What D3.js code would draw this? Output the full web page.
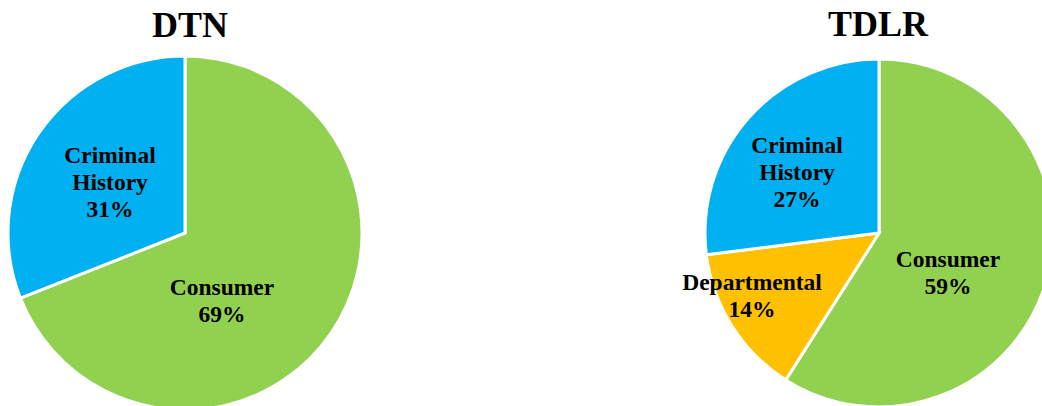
<!DOCTYPE html>
<html>
<head>
<meta charset="utf-8">
<script src="https://cdn.jsdelivr.net/npm/d3@7"></script>
<style>
  html, body { margin: 0; padding: 0; background: #fff; }
  svg { display: block; }
  text { font-family: "Liberation Serif", "Times New Roman", serif; font-weight: bold; fill: #000; }
</style>
</head>
<body>
<svg id="chart" width="1042" height="406"></svg>
<script>
// ---- Data ----
const dtnTitle = "DTN";
const dtnCategories = ["Consumer", "Criminal History"];
const dtnValues = [69, 31];

const tdlrTitle = "TDLR";
const tdlrCategories = ["Consumer", "Departmental", "Criminal History"];
const tdlrValues = [59, 14, 27];

// ---- Styles / layout ----
const colorScale = d3.scaleOrdinal()
  .domain(["Consumer", "Criminal History", "Departmental"])
  .range(["#92D050", "#00B0F0", "#FFC000"]);

const charts = [
  { title: dtnTitle, cats: dtnCategories, vals: dtnValues,
    cx: 185, cy: 233, r: 177, titleX: 190, titleY: 37,
    labelOffsets: { "Consumer": [37, 62], "Criminal History": [-75, -70] } },
  { title: tdlrTitle, cats: tdlrCategories, vals: tdlrValues,
    cx: 879, cy: 233, r: 174, titleX: 878, titleY: 36,
    labelOffsets: { "Consumer": [69, 34], "Departmental": [-127, 57], "Criminal History": [-82, -80] } }
];

const svg = d3.select("#chart");
const lineGap = 27;

charts.forEach(c => {
  const data = c.cats.map((k, i) => ({ cat: k, val: c.vals[i] }));
  const pie = d3.pie().sort(null).value(d => d.val);
  const arc = d3.arc().innerRadius(0).outerRadius(c.r);
  const g = svg.append("g").attr("transform", `translate(${c.cx},${c.cy})`);

  g.selectAll("path.slice")
    .data(pie(data))
    .join("path")
    .attr("class", "slice")
    .attr("d", arc)
    .attr("fill", d => colorScale(d.data.cat))
    .attr("stroke", "#fff")
    .attr("stroke-width", 3)
    .attr("stroke-linejoin", "miter");

  svg.append("text")
    .attr("x", c.titleX)
    .attr("y", c.titleY)
    .attr("text-anchor", "middle")
    .attr("font-size", 36)
    .text(c.title);

  pie(data).forEach(d => {
    const off = c.labelOffsets[d.data.cat];
    const lines = d.data.cat.split(" ");
    lines.push(d.data.val + "%");
    const t = g.append("text")
      .attr("text-anchor", "middle")
      .attr("font-size", 23.5);
    lines.forEach((ln, i) => {
      t.append("tspan")
        .attr("x", off[0])
        .attr("y", off[1] + i * lineGap)
        .text(ln);
    });
  });
});
</script>
</body>
</html>
